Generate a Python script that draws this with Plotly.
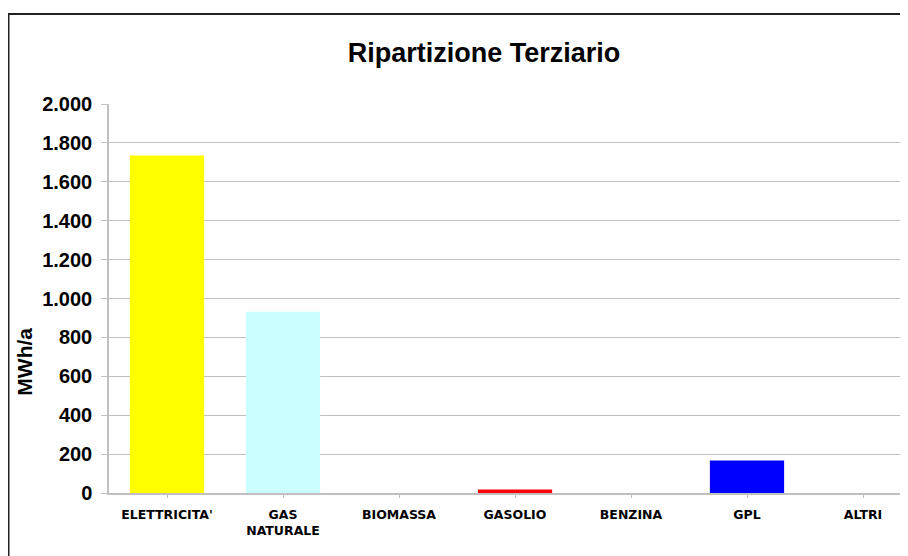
import plotly.graph_objects as go

categories = ["ELETTRICITA'", "GAS<br>NATURALE", "BIOMASSA", "GASOLIO", "BENZINA", "GPL", "ALTRI"]
values = [1735, 932, 0, 18, 0, 167, 0]
colors = ["#FFFF00", "#CCFFFF", "#808080", "#FF0000", "#808080", "#0000FF", "#808080"]
y_ticks = [0, 200, 400, 600, 800, 1000, 1200, 1400, 1600, 1800, 2000]

FONT = "Liberation Sans, Arial, sans-serif"
OFF = 8  # page body margin
W, H = 908 - OFF, 556 - OFF
L, T = 109 - OFF, 104 - OFF
B = H - (493.5 - OFF)
PW, PH = W - L, H - T - B

def px_x(p):
    return (p - OFF - L) / PW

def px_y(p):
    return (H - B - (p - OFF)) / PH

fig = go.Figure(go.Bar(
    x=list(range(len(categories))),
    y=values,
    marker=dict(color=colors, line=dict(width=0)),
    width=0.64,
))

fig.update_layout(
    width=W, height=H,
    margin=dict(l=L, r=0, t=T, b=B, pad=0),
    paper_bgcolor="white", plot_bgcolor="white",
    separators=",.",
    showlegend=False,
    font=dict(family=FONT, color="black"),
    title=dict(text="Ripartizione Terziario", xref="paper", yref="container",
               x=px_x(484), y=1 - (53 - OFF) / H, xanchor="center", yanchor="middle",
               font=dict(family=FONT, size=27, weight="bold", color="black")),
    xaxis=dict(
        tickmode="array", tickvals=list(range(len(categories))), ticktext=categories,
        range=[-0.5, -0.5 + PW / 116.0],
        tickson="boundaries", ticks="outside", ticklen=3, tickcolor="#C0C0C0",
        showline=True, linecolor="#C0C0C0", linewidth=1.5,
        showgrid=False, zeroline=False, tickangle=0,
        ticklabelstandoff=6,
        tickfont=dict(family="DejaVu Sans, sans-serif", size=12.5, weight="bold", color="black"),
    ),
    yaxis=dict(
        range=[0, 2000], tickmode="array", tickvals=y_ticks,
        tickformat=",.0f",
        ticks="outside", ticklen=6, tickcolor="#C0C0C0",
        showline=True, linecolor="#C0C0C0", linewidth=1.5,
        showgrid=True, gridcolor="#C0C0C0", gridwidth=1, zeroline=False,
        ticklabelstandoff=5,
        tickfont=dict(family=FONT, size=20, weight="bold", color="black"),
    ),
    annotations=[dict(text="MWh/a", xref="paper", yref="paper",
                      x=px_x(25), y=px_y(362), xanchor="center", yanchor="middle",
                      textangle=-90, showarrow=False,
                      font=dict(family=FONT, size=21, weight="bold", color="black"))],
    shapes=[dict(type="rect", xref="paper", yref="paper",
                 x0=px_x(8.5), x1=px_x(960), y0=px_y(600), y1=px_y(14),
                 line=dict(color="#222222", width=2), fillcolor="rgba(0,0,0,0)",
                 layer="above")],
)

fig.write_html("out.html")
